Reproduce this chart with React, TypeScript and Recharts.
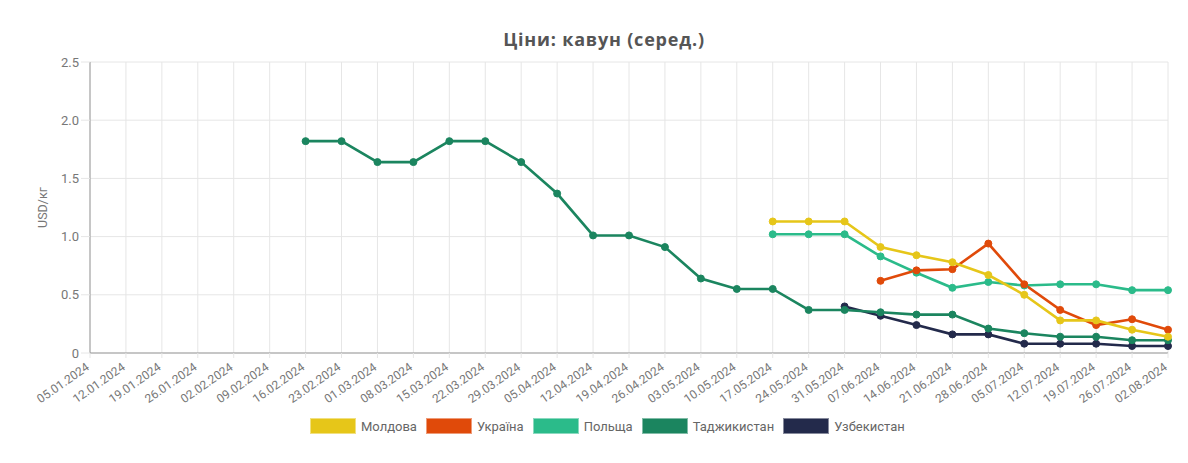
import React from "react";
import { CartesianGrid, Legend, Line, LineChart, XAxis, YAxis } from "recharts";

const dates = [
  "05.01.2024", "12.01.2024", "19.01.2024", "26.01.2024", "02.02.2024", "09.02.2024",
  "16.02.2024", "23.02.2024", "01.03.2024", "08.03.2024", "15.03.2024", "22.03.2024",
  "29.03.2024", "05.04.2024", "12.04.2024", "19.04.2024", "26.04.2024", "03.05.2024",
  "10.05.2024", "17.05.2024", "24.05.2024", "31.05.2024", "07.06.2024", "14.06.2024",
  "21.06.2024", "28.06.2024", "05.07.2024", "12.07.2024", "19.07.2024", "26.07.2024",
  "02.08.2024",
];

const n = null;
const moldova = [n, n, n, n, n, n, n, n, n, n, n, n, n, n, n, n, n, n, n,
  1.13, 1.13, 1.13, 0.91, 0.84, 0.78, 0.67, 0.5, 0.28, 0.28, 0.2, 0.14];
const ukraine = [n, n, n, n, n, n, n, n, n, n, n, n, n, n, n, n, n, n, n, n, n, n,
  0.62, 0.71, 0.72, 0.94, 0.59, 0.37, 0.24, 0.29, 0.2];
const poland = [n, n, n, n, n, n, n, n, n, n, n, n, n, n, n, n, n, n, n,
  1.02, 1.02, 1.02, 0.83, 0.69, 0.56, 0.61, 0.58, 0.59, 0.59, 0.54, 0.54];
const tajikistan = [n, n, n, n, n, n,
  1.82, 1.82, 1.64, 1.64, 1.82, 1.82, 1.64, 1.37, 1.01, 1.01, 0.91, 0.64, 0.55, 0.55,
  0.37, 0.37, 0.35, 0.33, 0.33, 0.21, 0.17, 0.14, 0.14, 0.11, 0.11];
const uzbekistan = [n, n, n, n, n, n, n, n, n, n, n, n, n, n, n, n, n, n, n, n, n,
  0.4, 0.32, 0.24, 0.16, 0.16, 0.08, 0.08, 0.08, 0.06, 0.06];

const yTicks = [0, 0.5, 1, 1.5, 2, 2.5];

const series = [
  { key: "Молдова", values: moldova, color: "#e6c619" },
  { key: "Україна", values: ukraine, color: "#e04a0a" },
  { key: "Польща", values: poland, color: "#2bbb8a" },
  { key: "Таджикистан", values: tajikistan, color: "#1b855f" },
  { key: "Узбекистан", values: uzbekistan, color: "#232a4b" },
];

const rows = dates.map((d, i) => {
  const r: Record<string, string | number | null> = { date: d };
  series.forEach((s) => (r[s.key] = s.values[i]));
  return r;
});

const font = "Roboto, 'Noto Sans', sans-serif";

function XTick({ x, y, payload }: any) {
  const ax = x;
  const ay = y + 9;
  return (
    <text
      x={ax}
      y={ay}
      transform={`rotate(-35, ${ax}, ${ay})`}
      textAnchor="end"
      fontSize={12}
      fill="#777"
      fontFamily={font}
    >
      {payload.value}
    </text>
  );
}

function LegendBox() {
  return (
    <div style={{ display: "flex", alignItems: "center", paddingLeft: 302, fontFamily: font, fontSize: 13, color: "#666", height: 20 }}>
      {series.map((s) => (
        <div key={s.key} style={{ display: "flex", alignItems: "center", marginRight: 9 }}>
          <span style={{ width: 46, height: 16, background: s.color, border: "1px solid rgba(255,255,255,0.45)", boxSizing: "border-box", marginRight: 5 }} />
          <span>{s.key}</span>
        </div>
      ))}
    </div>
  );
}

export default function App() {
  return (
    <div style={{ position: "relative", width: 1172, height: 455 }}>
      <div style={{ position: "absolute", left: 596, top: 19, transform: "translateX(-50%)", fontFamily: "'Open Sans', sans-serif", fontWeight: 700, fontSize: 18, letterSpacing: 0.8, color: "#555", whiteSpace: "nowrap" }}>
        Ціни: кавун (серед.)
      </div>
      <LineChart width={1172} height={455} data={rows} margin={{ top: 54, right: 12, bottom: 27, left: 22 }}>
        <CartesianGrid stroke="#e6e6e6" />
        <XAxis
          dataKey="date"
          interval={0}
          tick={<XTick />}
          height={63}
          stroke="#999"
          tickSize={5}
          tickLine={{ stroke: "#e6e6e6" }}
        />
        <YAxis
          domain={[0, 2.5]}
          ticks={yTicks}
          width={60}
          stroke="#999"
          tickSize={9}
          tickMargin={2}
          tickLine={{ stroke: "#e6e6e6" }}
          tick={{ fontSize: 13, fill: "#777", fontFamily: font }}
          tickFormatter={(v: number) => (v === 0 ? "0" : v.toFixed(1))}
          label={{ value: "USD/кг", angle: -90, position: "insideLeft", offset: 13, style: { fontSize: 12.5, fill: "#777", fontFamily: font, textAnchor: "middle" } }}
        />
        <Legend verticalAlign="bottom" wrapperStyle={{ left: 0, width: 1172 }} content={<LegendBox />} />
        {[...series].reverse().map((s) => (
          <Line
            key={s.key}
            dataKey={s.key}
            stroke={s.color}
            strokeWidth={2.6}
            dot={{ r: 3.5, fill: s.color, stroke: s.color, strokeWidth: 1 }}
            activeDot={false}
            connectNulls={false}
            isAnimationActive={false}
          />
        ))}
      </LineChart>
    </div>
  );
}
